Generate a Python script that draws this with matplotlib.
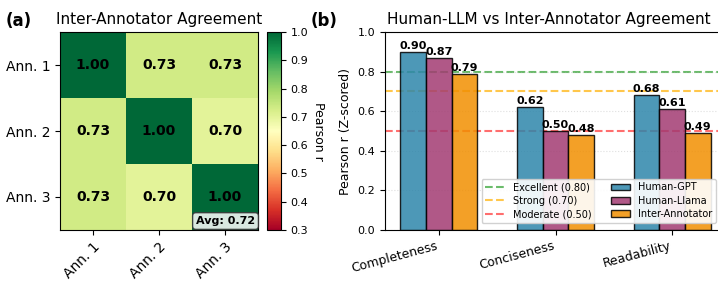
import numpy as np
import matplotlib
matplotlib.use('Agg')
import matplotlib.pyplot as plt
from matplotlib.lines import Line2D

# ── data ──
annotators = ['Ann. 1', 'Ann. 2', 'Ann. 3']
iaa = np.array([[1.00, 0.73, 0.73],
                [0.73, 1.00, 0.70],
                [0.73, 0.70, 1.00]])
iaa_avg = 0.72

dims = ['Completeness', 'Conciseness', 'Readability']
human_gpt = [0.90, 0.62, 0.68]
human_llama = [0.87, 0.50, 0.61]
inter_ann = [0.79, 0.48, 0.49]

thresholds = [0.80, 0.70, 0.50]
thr_names = ['Excellent', 'Strong', 'Moderate']
thr_colors = ['#2ca02c', '#FFB000', '#FF3030']

C_GPT, C_LLAMA, C_IAA = '#2E86AB', '#A23B72', '#F18F01'

fig = plt.figure(figsize=(7.18, 2.83), dpi=100)

# ── (a) heatmap ──
ax1 = fig.add_axes([0.0836, 0.1873, 0.2758, 0.6996])
im = ax1.imshow(iaa, cmap='RdYlGn', vmin=0.3, vmax=1.0, aspect='auto')
ax1.set_xticks(range(3))
ax1.set_yticks(range(3))
ax1.set_xticklabels(annotators, rotation=45, ha='right', rotation_mode='anchor', fontsize=10)
ax1.set_yticklabels(annotators, fontsize=10)
for i in range(3):
    for j in range(3):
        ax1.text(j, i, f'{iaa[i, j]:.2f}', ha='center', va='center',
                 fontsize=10, fontweight='bold', color='black')
ax1.set_title('Inter-Annotator Agreement', fontsize=11, pad=6)
ax1.text(0.985, 0.02, f'Avg: {iaa_avg:.2f}', transform=ax1.transAxes,
         ha='right', va='bottom', fontsize=8, fontweight='bold',
         bbox=dict(boxstyle='round,pad=0.3', facecolor='white', alpha=0.85, edgecolor='#333333'))
fig.text(0.008, 0.925, '(a)', fontsize=12, fontweight='bold', va='center')

cax = fig.add_axes([0.3719, 0.1873, 0.0195, 0.6996])
cb = fig.colorbar(im, cax=cax)
cb.set_label('Pearson r', rotation=270, labelpad=12, fontsize=9)
cb.ax.tick_params(labelsize=8)

# ── (b) bars ──
ax2 = fig.add_axes([0.5362, 0.1873, 0.475, 0.6996])
x = np.arange(len(dims))
w = 0.22
b1 = ax2.bar(x - w, human_gpt, w, color=C_GPT, alpha=0.85, edgecolor='black', linewidth=1, label='Human-GPT')
b2 = ax2.bar(x, human_llama, w, color=C_LLAMA, alpha=0.85, edgecolor='black', linewidth=1, label='Human-Llama')
b3 = ax2.bar(x + w, inter_ann, w, color=C_IAA, alpha=0.85, edgecolor='black', linewidth=1, label='Inter-Annotator')
for bars in (b1, b2, b3):
    for b in bars:
        ax2.text(b.get_x() + b.get_width() / 2, b.get_height() + 0.005, f'{b.get_height():.2f}',
                 ha='center', va='bottom', fontsize=8, fontweight='bold')

for t, c in zip(thresholds, thr_colors):
    ax2.axhline(t, color=c, linestyle='--', linewidth=1.5, alpha=0.7, zorder=0)

ax2.set_ylim(0, 1.0)
ax2.set_xticks(x)
ax2.set_xticklabels(dims, rotation=15, ha='right', fontsize=9)
ax2.tick_params(axis='y', labelsize=8)
ax2.set_ylabel('Pearson r (Z-scored)', fontsize=9)
ax2.set_title('Human-LLM vs Inter-Annotator Agreement', fontsize=11, pad=6, x=0.48)
ax2.yaxis.grid(True, linestyle=':', alpha=0.4)
ax2.set_axisbelow(True)

handles = [Line2D([0], [0], color=c, linestyle='--', linewidth=1.5, alpha=0.7) for c in thr_colors]
labels = [f'{n} ({t:.2f})' for n, t in zip(thr_names, thresholds)]
handles += [b1, b2, b3]
labels += ['Human-GPT', 'Human-Llama', 'Inter-Annotator']
ax2.legend(handles, labels, loc='lower right', ncol=2, fontsize=7, framealpha=0.9,
           bbox_to_anchor=(0.985, 0.01), borderpad=0.4, labelspacing=0.35)
fig.text(0.432, 0.925, '(b)', fontsize=12, fontweight='bold', va='center')

fig.savefig('out.png', dpi=100)
